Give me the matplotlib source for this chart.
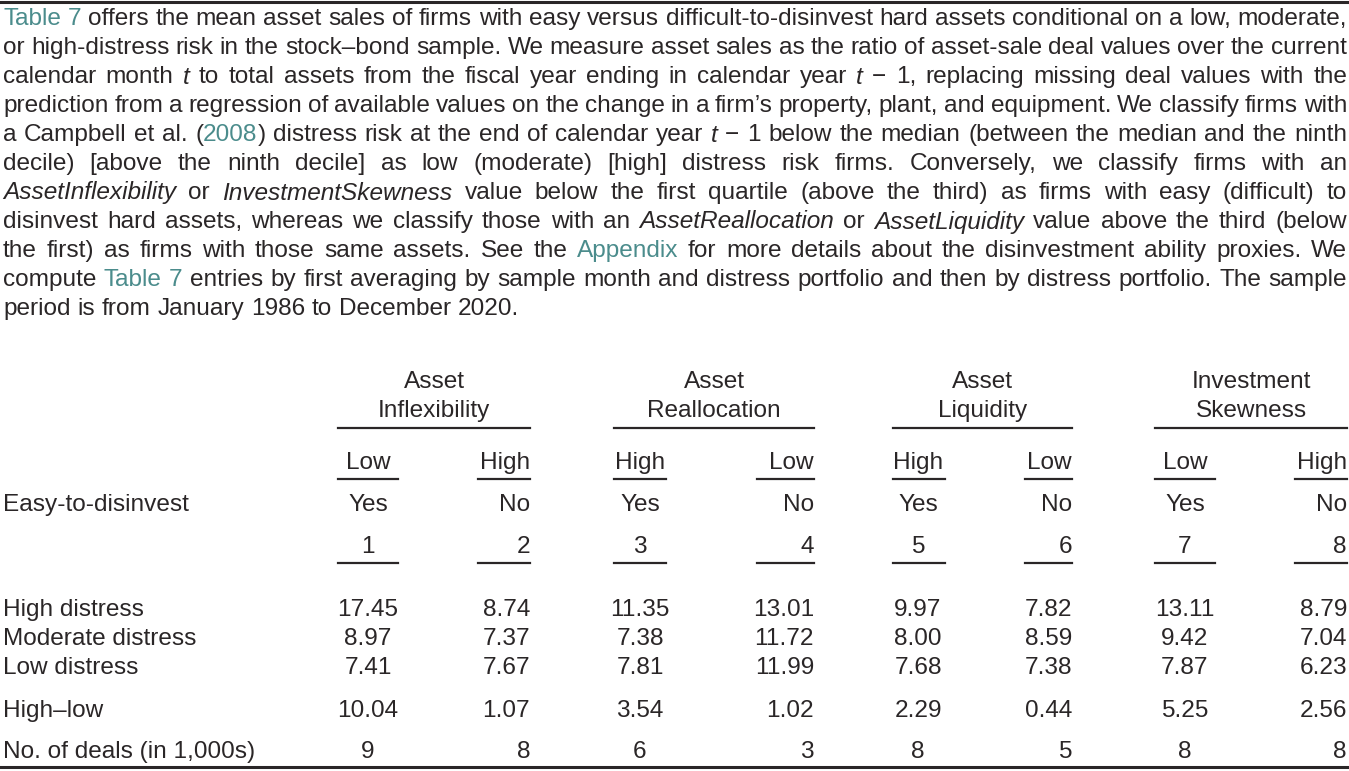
import matplotlib
matplotlib.use("Agg")
import matplotlib.pyplot as plt

W, H = 1349, 771
TXT = "#2a2627"
LINK = "#4b8c8c"
FONT = "Liberation Sans"
FS = 17.6

# Paragraph lines: list of (text, style) segments; style n=normal, l=link, i=italic
para = [
    [("Table 7", "l"), (" offers the mean asset sales of firms with easy versus difficult-to-disinvest hard assets conditional on a low, moderate,", "n")],
    [("or high-distress risk in the stock\u2013bond sample. We measure asset sales as the ratio of asset-sale deal values over the current", "n")],
    [("calendar month ", "n"), ("t", "i"), (" to total assets from the fiscal year ending in calendar year ", "n"), ("t", "i"), (" \u2212 1, replacing missing deal values with the", "n")],
    [("prediction from a regression of available values on the change in a firm\u2019s property, plant, and equipment. We classify firms with", "n")],
    [("a Campbell et al. (", "n"), ("2008", "l"), (") distress risk at the end of calendar year ", "n"), ("t", "i"), (" \u2212 1 below the median (between the median and the ninth", "n")],
    [("decile) [above the ninth decile] as low (moderate) [high] distress risk firms. Conversely, we classify firms with an", "n")],
    [("AssetInflexibility", "i"), (" or ", "n"), ("InvestmentSkewness", "i"), (" value below the first quartile (above the third) as firms with easy (difficult) to", "n")],
    [("disinvest hard assets, whereas we classify those with an ", "n"), ("AssetReallocation", "i"), (" or ", "n"), ("AssetLiquidity", "i"), (" value above the third (below", "n")],
    [("the first) as firms with those same assets. See the ", "n"), ("Appendix", "l"), (" for more details about the disinvestment ability proxies. We", "n")],
    [("compute ", "n"), ("Table 7", "l"), (" entries by first averaging by sample month and distress portfolio and then by distress portfolio. The sample", "n")],
    [("period is from January 1986 to December 2020.", "n")],
]

groups = [("Asset", "Inflexibility"), ("Asset", "Reallocation"), ("Asset", "Liquidity"), ("Investment", "Skewness")]
levels = ["Low", "High", "High", "Low", "High", "Low", "Low", "High"]
easy = ["Yes", "No", "Yes", "No", "Yes", "No", "Yes", "No"]
col_nums = ["1", "2", "3", "4", "5", "6", "7", "8"]

row_labels = ["High distress", "Moderate distress", "Low distress", "High\u2013low", "No. of deals (in 1,000s)"]
high_distress = ["17.45", "8.74", "11.35", "13.01", "9.97", "7.82", "13.11", "8.79"]
moderate_distress = ["8.97", "7.37", "7.38", "11.72", "8.00", "8.59", "9.42", "7.04"]
low_distress = ["7.41", "7.67", "7.81", "11.99", "7.68", "7.38", "7.87", "6.23"]
high_low = ["10.04", "1.07", "3.54", "1.02", "2.29", "0.44", "5.25", "2.56"]
n_deals = ["9", "8", "6", "3", "8", "5", "8", "8"]

fig = plt.figure(figsize=(W / 100, H / 100), dpi=100)
ax = fig.add_axes([0, 0, 1, 1])
ax.set_xlim(0, W)
ax.set_ylim(H, 0)
ax.axis("off")
renderer = fig.canvas.get_renderer()


def style_kw(s):
    kw = dict(fontsize=FS, family=FONT, color=TXT, va="center", ha="left")
    if s == "l":
        kw["color"] = LINK
    if s == "i":
        kw["style"] = "italic"
    return kw


def width_of(text, s):
    t = ax.text(0, 0, text, **style_kw(s))
    bb = t.get_window_extent(renderer)
    t.remove()
    return bb.width


# split paragraph lines into words made of styled pieces, then justify
x0, x1 = 3, 1347
for i, line in enumerate(para):
    y = 19 + 29 * i
    words = [[]]
    for text, s in line:
        parts = text.split(" ")
        for k, p in enumerate(parts):
            if k > 0:
                words.append([])
            if p:
                words[-1].append((p, s))
    words = [w for w in words if w]
    widths = [sum(width_of(p, s) for p, s in w) for w in words]
    space = width_of("a a", "n") - 2 * width_of("a", "n")
    if i < len(para) - 1:
        space = (x1 - x0 - sum(widths)) / (len(words) - 1)
    x = x0
    for w, ww in zip(words, widths):
        xx = x
        for p, s in w:
            ax.text(xx, y, p, **style_kw(s))
            xx += width_of(p, s)
        x += ww + space

# table layout
cols = [(368, "center"), (530, "right"), (640, "center"), (814, "right"),
        (918, "center"), (1072, "right"), (1185, "center"), (1347, "right")]
ulines = [(338, 398), (478, 530), (614, 666), (757, 814),
          (893, 945), (1025, 1072), (1155, 1215), (1295, 1347)]
gspan = [(338, 530), (614, 814), (893, 1072), (1155, 1347)]

kw = dict(fontsize=FS, family=FONT, color=TXT, va="center")
lw = 1.6
ax.plot([0, W], [2, 2], color=TXT, lw=2.2)
ax.plot([0, W], [767, 767], color=TXT, lw=2.2)

for (a, b), (g1, g2) in zip(gspan, groups):
    c = (a + b) / 2
    ax.text(c, 382, g1, ha="center", **kw)
    ax.text(c, 411, g2, ha="center", **kw)
    ax.plot([a, b], [428, 428], color=TXT, lw=lw)

ax.text(3, 505, "Easy-to-disinvest", ha="left", **kw)
table_rows = [high_distress, moderate_distress, low_distress, high_low, n_deals]
row_y = [610, 639, 668, 711, 752]
for j, ((cx, ha), (a, b)) in enumerate(zip(cols, ulines)):
    ax.text(cx, 463, levels[j], ha=ha, **kw)
    ax.plot([a, b], [479, 479], color=TXT, lw=lw)
    ax.text(cx, 505, easy[j], ha=ha, **kw)
    ax.text(cx, 547, col_nums[j], ha=ha, **kw)
    ax.plot([a, b], [563, 563], color=TXT, lw=lw)
    for vals, y in zip(table_rows, row_y):
        ax.text(cx, y, vals[j], ha=ha, **kw)

for lab, y in zip(row_labels, row_y):
    ax.text(3, y, lab, ha="left", **kw)

fig.savefig("out.png", dpi=100)
